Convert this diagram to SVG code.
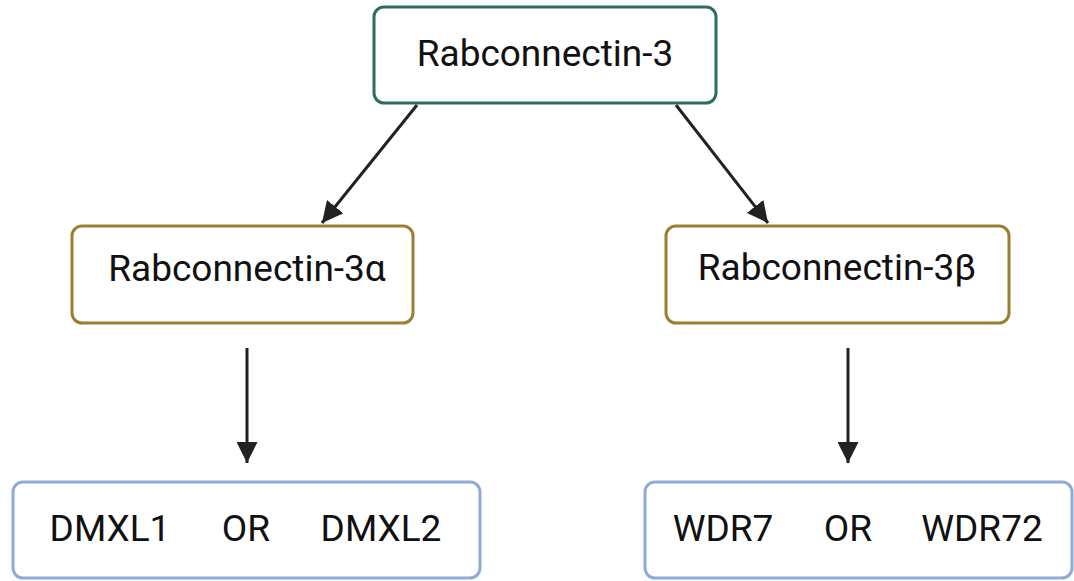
<svg xmlns="http://www.w3.org/2000/svg" width="1074" height="581" viewBox="0 0 1074 581">
<defs>
<marker id="ah" viewBox="0 0 10 10" refX="10" refY="5" markerWidth="7" markerHeight="7" markerUnits="strokeWidth" orient="auto">
<path d="M0,0 L10,5 L0,10 z" fill="#222"/>
</marker>
<style>
.box{fill:#fff;stroke-width:3}
.t{font-family:Roboto,"Liberation Sans",sans-serif;font-size:37px;fill:#111}
.c{stroke:#222;stroke-width:3;fill:none}
</style>
</defs>
<rect width="1074" height="581" fill="#fff"/>
<g id="connectors">
<line class="c" x1="417" y1="105" x2="322" y2="223" marker-end="url(#ah)"/>
<line class="c" x1="676" y1="105" x2="768" y2="223" marker-end="url(#ah)"/>
<line class="c" x1="247" y1="348" x2="247" y2="463" marker-end="url(#ah)"/>
<line class="c" x1="848" y1="348" x2="848" y2="463" marker-end="url(#ah)"/>
</g>
<g id="n-rab3">
<rect class="box" x="374" y="7" width="342" height="96" rx="10" stroke="#2d6e63"/>
<text class="t" x="545" y="66" text-anchor="middle">Rabconnectin-3</text>
</g>
<g id="n-rab3a">
<rect class="box" x="72" y="226" width="341" height="97" rx="10" stroke="#9b7e2f"/>
<text class="t" x="247" y="281" text-anchor="middle">Rabconnectin-3α</text>
</g>
<g id="n-rab3b">
<rect class="box" x="666" y="226" width="343" height="97" rx="10" stroke="#9b7e2f"/>
<text class="t" x="837" y="280" text-anchor="middle">Rabconnectin-3β</text>
</g>
<g id="n-dmxl">
<rect class="box" x="13" y="482" width="467" height="96" rx="10" stroke="#8eaad6"/>
<text class="t" x="110" y="541" text-anchor="middle">DMXL1</text>
<text class="t" x="246" y="541" text-anchor="middle">OR</text>
<text class="t" x="381" y="541" text-anchor="middle">DMXL2</text>
</g>
<g id="n-wdr">
<rect class="box" x="645" y="482" width="427" height="96" rx="10" stroke="#8eaad6"/>
<text class="t" x="723" y="541" text-anchor="middle">WDR7</text>
<text class="t" x="848" y="541" text-anchor="middle">OR</text>
<text class="t" x="982" y="541" text-anchor="middle">WDR72</text>
</g>
</svg>
